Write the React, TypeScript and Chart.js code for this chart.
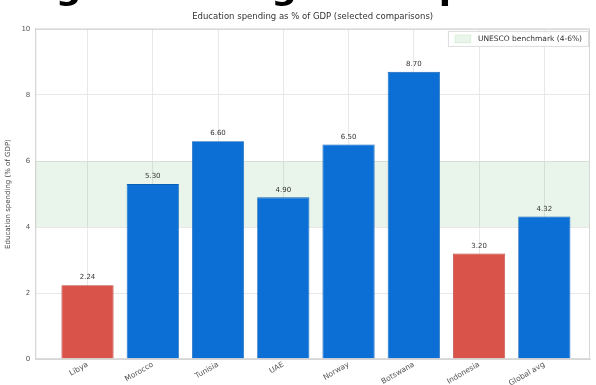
import React, { useEffect, useRef } from "react";
import { Chart, registerables } from "chart.js";

Chart.register(...registerables);

// ---- data ----
const CATEGORIES = ["Libya", "Morocco", "Tunisia", "UAE", "Norway", "Botswana", "Indonesia", "Global avg"];
const SPENDING = [2.24, 5.3, 6.6, 4.9, 6.5, 8.7, 3.2, 4.32];
const Y_TICKS = [0, 2, 4, 6, 8, 10];
const BENCHMARK_LOW = 4;
const BENCHMARK_HIGH = 6;
const TITLE = "Regional Budget Comparison";
const SUBTITLE = "Education spending as % of GDP (selected comparisons)";
const Y_TITLE = "Education spending (% of GDP)";
const LEGEND_LABEL = "UNESCO benchmark (4-6%)";

const FONT = "'DejaVu Sans', sans-serif";
const BLUE = "#0b6fd6";
const BLUE_EDGE = "#0a5fb8";
const RED = "#d9534a";
const RED_EDGE = "#b8443d";
const BAND = "rgba(76,175,80,0.12)";
const SHIFT = 32;
const EXTRA_BOTTOM = 4;

const bandPlugin = {
  id: "bandPlugin",
  beforeDatasetsDraw(chart: any) {
    const { ctx, chartArea, scales } = chart;
    const yTop = scales.y.getPixelForValue(BENCHMARK_HIGH);
    const yBot = scales.y.getPixelForValue(BENCHMARK_LOW);
    ctx.save();
    ctx.fillStyle = BAND;
    ctx.fillRect(chartArea.left, yTop, chartArea.right - chartArea.left, yBot - yTop);
    ctx.restore();
  },
};

const valueLabelPlugin = {
  id: "valueLabelPlugin",
  afterDatasetsDraw(chart: any) {
    const { ctx } = chart;
    const meta = chart.getDatasetMeta(0);
    ctx.save();
    ctx.font = `7px ${FONT}`;
    ctx.fillStyle = "#333";
    ctx.textAlign = "center";
    ctx.textBaseline = "bottom";
    meta.data.forEach((el: any, i: number) => {
      ctx.fillText(SPENDING[i].toFixed(2), el.x, el.y - 4);
    });
    ctx.restore();
  },
};

const framePlugin = {
  id: "framePlugin",
  afterDraw(chart: any) {
    const { ctx, chartArea } = chart;
    ctx.save();
    ctx.strokeStyle = "#d6d6d6";
    ctx.lineWidth = 1;
    ctx.strokeRect(chartArea.left + 0.5, chartArea.top + 0.5, chartArea.right - chartArea.left - 1, chartArea.bottom - chartArea.top - 1);

    // legend box in upper right of the plot
    ctx.font = `7.5px ${FONT}`;
    const tw = ctx.measureText(LEGEND_LABEL).width;
    const boxW = 16;
    const boxH = 8;
    const pad = 7;
    const gap = 7;
    const w = pad + boxW + gap + tw + pad;
    const h = 16;
    const right = chartArea.right - 1;
    const top = chartArea.top + 2;
    const left = right - w;
    ctx.fillStyle = "rgba(255,255,255,0.85)";
    ctx.fillRect(left, top, w, h);
    ctx.strokeStyle = "#dcdcdc";
    ctx.strokeRect(left + 0.5, top + 0.5, w - 1, h - 1);
    ctx.fillStyle = BAND;
    ctx.fillRect(left + pad, top + (h - boxH) / 2, boxW, boxH);
    ctx.strokeStyle = "rgba(76,175,80,0.25)";
    ctx.lineWidth = 0.5;
    ctx.strokeRect(left + pad, top + (h - boxH) / 2, boxW, boxH);
    ctx.fillStyle = "#333";
    ctx.textAlign = "left";
    ctx.textBaseline = "middle";
    ctx.fillText(LEGEND_LABEL, left + pad + boxW + gap, top + h / 2 + 0.5);
    ctx.restore();
  },
};

export default function App() {
  const ref = useRef<HTMLCanvasElement | null>(null);

  useEffect(() => {
    if (!ref.current) return;
    const chart = new Chart(ref.current, {
      type: "bar",
      data: {
        datasets: [
          {
            label: "Education spending",
            data: SPENDING.map((v, i) => ({ x: i, y: v })),
            backgroundColor: SPENDING.map((v) => (v < BENCHMARK_LOW ? RED : BLUE)),
            borderColor: SPENDING.map((v) => (v < BENCHMARK_LOW ? RED_EDGE : BLUE_EDGE)),
            borderWidth: 0.8,
            barPercentage: 0.8,
            categoryPercentage: 1,
          } as any,
        ],
      },
      options: {
        animation: false,
        responsive: false,
        devicePixelRatio: 1,
        layout: { padding: { left: 4, right: 6, top: 0, bottom: 0 } },
        scales: {
          x: {
            type: "linear",
            offset: false,
            min: -0.8,
            max: 7.7,
            ticks: {
              stepSize: 1,
              includeBounds: false,
              autoSkip: false,
              maxRotation: 30,
              minRotation: 30,
              font: { family: FONT, size: 7.5 },
              color: "#555",
              padding: 1,
              callback: (v: any) => (Number.isInteger(v) && CATEGORIES[v] !== undefined ? CATEGORIES[v] : ""),
            },
            grid: { color: "#e8e8e8", drawTicks: false, offset: false },
            border: { color: "#d6d6d6" },
          },
          y: {
            min: Y_TICKS[0],
            max: Y_TICKS[Y_TICKS.length - 1],
            afterBuildTicks: (axis: any) => {
              axis.ticks = Y_TICKS.map((v) => ({ value: v }));
            },
            ticks: {
              font: { family: FONT, size: 7 },
              color: "#555",
              padding: 5,
            },
            grid: { color: "#e8e8e8", drawTicks: false },
            border: { color: "#d6d6d6" },
            title: {
              display: true,
              text: Y_TITLE,
              font: { family: FONT, size: 7 },
              color: "#444",
              padding: { top: 0, bottom: 4 },
            },
          },
        },
        plugins: {
          title: {
            display: true,
            text: TITLE,
            font: { family: FONT, size: 36, weight: "bold" },
            color: "#000",
            padding: { top: 0, bottom: 0 },
          },
          subtitle: {
            display: true,
            text: SUBTITLE,
            fullSize: false,
            font: { family: FONT, size: 8.5 },
            color: "#333",
            padding: { top: 0, bottom: 7.5 },
          },
          legend: { display: false },
          tooltip: { enabled: false },
        },
      },
      plugins: [bandPlugin, valueLabelPlugin, framePlugin],
    });
    return () => chart.destroy();
  }, []);

  return (
    <div
      style={{
        position: "fixed",
        left: 0,
        top: -SHIFT,
        width: 596,
        height: 385 + SHIFT + EXTRA_BOTTOM,
        background: "#fff",
      }}
    >
      <canvas ref={ref} width={596} height={385 + SHIFT + EXTRA_BOTTOM} style={{ display: "block" }} />
    </div>
  );
}
